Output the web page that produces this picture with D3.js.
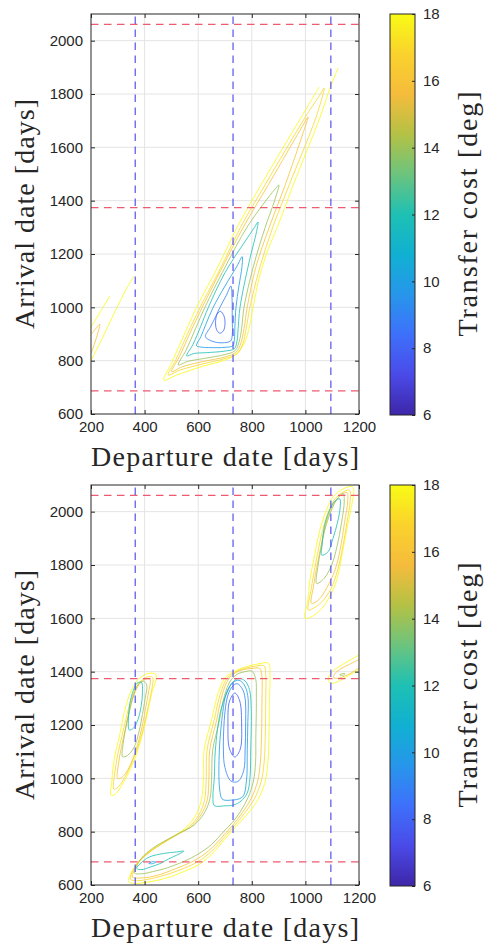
<!DOCTYPE html>
<html>
<head>
<meta charset="utf-8">
<script src="https://cdn.jsdelivr.net/npm/d3@7.9.0/dist/d3.min.js"></script>
<style>
  body { margin: 0; background: #fff; }
</style>
</head>
<body>
<div id="chart"></div>
<script>
// ---- values ----
const xTicks = [200, 400, 600, 800, 1000, 1200];
const yTicks = [600, 800, 1000, 1200, 1400, 1600, 1800, 2000];
const costTicks = [6, 8, 10, 12, 14, 16, 18];
const marsYears = [687, 1374, 2061];   // red dashed
const earthYears = [365, 730, 1095];   // blue dashed
const parula = ["#3e26a8", "#4a4ae8", "#3e70fb", "#2796eb", "#10b0d2", "#1ec0b4",
                "#6cc47e", "#b4c145", "#f5bc3c", "#fad22d", "#f9fb15"];

// contour lines, [departure, arrival] in days
const topContours = [
  { level: 8, closed: true, pts: [[683,985],[696,968],[700,940],[694,912],[680,903],[668,918],[665,950],[671,975]] },
  { level: 9, closed: true, pts: [[722,1080],[726,1040],[727,960],[727,895],[721,874],[690,867],[655,872],[627,890],[645,925],[665,965],[681,1000],[705,1045]] },
  { level: 10, closed: true, pts: [[764,1190],[763,1150],[752,1080],[741,1000],[737,930],[735,880],[729,856],[700,850],[640,849],[610,851],[594,856],[610,890],[630,940],[656,1000],[700,1080],[745,1155]] },
  { level: 12, closed: true, pts: [[823,1320],[818,1285],[790,1170],[756,1000],[749,920],[745,875],[735,845],[700,836],[630,830],[585,827],[557,818],[580,860],[610,930],[638,1000],[700,1130],[770,1240],[810,1300]] },
  { level: 14, closed: true, pts: [[901,1459],[885,1400],[850,1300],[805,1150],[771,1000],[762,920],[753,872],[738,838],[700,823],[620,808],[560,797],[526,784],[555,840],[590,920],[625,1000],[700,1150],[782,1300],[860,1410],[888,1445]] },
  { level: 16, closed: true, pts: [[1010,1714],[990,1650],[925,1460],[865,1300],[815,1150],[783,1000],[771,920],[760,868],[742,832],[700,814],[620,797],[540,777],[501,759],[530,815],[570,905],[615,1000],[690,1150],[768,1300],[862,1460],[960,1630],[995,1690]] },
  { level: 17, closed: true, pts: [[1070,1822],[1040,1714],[940,1460],[878,1300],[830,1150],[793,1000],[779,920],[766,862],[745,826],[700,808],[610,786],[530,764],[488,746],[515,800],[560,900],[607,1000],[680,1140],[758,1300],[850,1460],[1000,1714],[1050,1790]] },
  { level: 18, closed: false, pts: [[1051,1826],[985,1714],[835,1460],[745,1300],[680,1165],[594,1000],[540,880],[500,790],[472,727],[520,746],[607,776],[693,800],[734,818],[760,845],[778,880],[792,930],[805,1000],[830,1120],[862,1220],[895,1300],[955,1460],[1055,1714],[1093,1826],[1122,1897]] },
  { level: 18, closed: false, pts: [[200,800],[240,880],[290,985],[330,1065],[360,1117]] },
  { level: 18, closed: false, pts: [[200,926],[230,975],[271,1043]] },
  { level: 16, closed: false, pts: [[200,898],[222,925],[233,937],[228,912],[215,870],[203,835],[200,828]] }
];

const bottomContours = [
  { level: 8, closed: true, pts: [[737,1320],[755,1290],[762,1200],[757,1110],[737,1080],[717,1110],[711,1200],[717,1290]] },
  { level: 9, closed: true, pts: [[745,1355],[765,1335],[775,1300],[777,1200],[775,1106],[770,1030],[748,988],[722,990],[700,1040],[694,1106],[700,1250],[712,1315],[728,1345]] },
  { level: 10, closed: true, pts: [[752,1368],[772,1350],[785,1310],[785,1200],[783,1106],[780,990],[765,930],[720,918],[690,922],[680,960],[679,1106],[692,1250],[705,1320],[728,1358]] },
  { level: 12, closed: true, pts: [[660,898],[700,897],[732,900],[760,915],[783,945],[793,1000],[796,1106],[798,1250],[792,1330],[775,1365],[752,1375],[730,1362],[708,1322],[683,1250],[664,1106],[660,1000],[655,930]] },
  { level: 14, closed: true, pts: [[362,645],[390,642],[430,650],[470,660],[500,670],[550,690],[600,716],[650,752],[700,806],[728,835],[758,876],[786,928],[806,990],[814,1060],[815,1150],[817,1300],[814,1375],[800,1402],[775,1400],[745,1390],[720,1365],[698,1310],[678,1210],[654,1106],[650,1000],[644,925],[624,872],[585,825],[530,795],[480,768],[430,738],[390,702],[368,668]] },
  { level: 16, closed: true, pts: [[354,630],[380,626],[420,630],[460,640],[500,655],[550,675],[600,700],[650,738],[700,792],[732,828],[765,872],[798,925],[822,990],[832,1060],[836,1150],[838,1300],[838,1380],[830,1412],[800,1412],[770,1408],[738,1395],[712,1370],[690,1315],[668,1215],[643,1106],[640,1000],[634,920],[612,866],[572,818],[520,788],[470,758],[420,724],[380,688],[360,652]] },
  { level: 17, closed: true, pts: [[347,622],[370,616],[400,619],[450,630],[500,645],[550,664],[600,688],[650,727],[700,782],[735,822],[772,868],[808,920],[834,985],[846,1060],[850,1150],[852,1300],[852,1385],[846,1422],[815,1421],[780,1414],[740,1400],[708,1375],[683,1318],[660,1220],[633,1106],[630,1000],[624,920],[602,862],[562,815],[510,782],[460,752],[410,718],[372,680],[352,645]] },
  { level: 18, closed: true, pts: [[340,612],[360,606],[400,609],[450,618],[500,632],[550,652],[600,675],[650,715],[700,772],[740,818],[780,862],[820,915],[848,980],[860,1060],[864,1150],[866,1300],[868,1390],[862,1432],[830,1430],[790,1422],[745,1406],[703,1380],[675,1322],[650,1220],[622,1106],[620,1000],[612,920],[590,860],[550,812],[500,778],[450,748],[400,712],[365,672],[345,635]] },
  { level: 12, closed: true, pts: [[370,662],[395,690],[420,706],[470,718],[520,724],[546,727],[520,712],[490,698],[457,680],[420,667],[390,658]] },
  { level: 10, closed: true, pts: [[416,681],[428,687],[442,686],[430,680]] },
  // left lobe
  { level: 12, closed: true, pts: [[343,1181],[340,1230],[345,1280],[358,1330],[372,1357],[388,1360],[392,1320],[387,1270],[375,1220],[360,1190]] },
  { level: 14, closed: true, pts: [[318,1081],[320,1130],[330,1190],[343,1250],[358,1310],[375,1350],[395,1364],[408,1350],[402,1300],[392,1240],[378,1170],[360,1115],[335,1085]] },
  { level: 16, closed: true, pts: [[299,1000],[302,1050],[312,1110],[325,1170],[340,1240],[356,1300],[375,1345],[398,1370],[420,1372],[416,1330],[405,1270],[392,1200],[375,1130],[355,1070],[330,1020],[310,1000]] },
  { level: 17, closed: true, pts: [[285,960],[290,1030],[302,1100],[316,1160],[332,1230],[348,1290],[365,1335],[385,1364],[410,1380],[430,1378],[428,1340],[418,1290],[403,1220],[385,1150],[365,1090],[340,1030],[315,985],[295,962]] },
  { level: 18, closed: true, pts: [[275,937],[278,990],[281,1031],[292,1100],[306,1156],[320,1230],[337,1294],[355,1340],[374,1369],[400,1388],[418,1394],[442,1390],[440,1360],[430,1331],[418,1280],[405,1219],[385,1140],[362,1069],[335,1010],[312,969],[290,940]] },
  // upper right lobe
  { level: 12, closed: true, pts: [[1061,1837],[1063,1880],[1070,1940],[1088,2000],[1110,2040],[1128,2048],[1130,2020],[1120,1960],[1103,1900],[1085,1850]] },
  { level: 14, closed: true, pts: [[1042,1731],[1046,1790],[1058,1860],[1072,1930],[1095,2000],[1120,2050],[1141,2068],[1145,2040],[1135,1960],[1118,1870],[1098,1800],[1070,1750]] },
  { level: 16, closed: true, pts: [[1023,1656],[1030,1720],[1042,1790],[1058,1870],[1075,1950],[1100,2020],[1130,2060],[1155,2072],[1158,2040],[1146,1960],[1130,1860],[1110,1780],[1080,1715],[1050,1670]] },
  { level: 17, closed: true, pts: [[1011,1631],[1020,1700],[1030,1760],[1045,1840],[1064,1930],[1090,2010],[1112,2050],[1145,2076],[1165,2080],[1167,2040],[1155,1960],[1140,1870],[1120,1780],[1095,1710],[1060,1660],[1030,1638]] },
  { level: 18, closed: true, pts: [[998,1601],[1008,1660],[1017,1744],[1035,1840],[1054,1931],[1080,2010],[1104,2056],[1140,2085],[1172,2094],[1180,2085],[1172,2020],[1154,1931],[1137,1840],[1117,1744],[1090,1680],[1067,1644],[1030,1610]] },
  // lower right lobe
  { level: 14, closed: true, pts: [[1128,1388],[1140,1393],[1148,1392],[1138,1386]] },
  { level: 16, closed: false, pts: [[1205,1448],[1165,1428],[1128,1408],[1108,1390],[1106,1377],[1125,1376],[1165,1392],[1205,1418]] },
  { level: 18, closed: false, pts: [[1205,1465],[1160,1440],[1120,1415],[1095,1395],[1086,1372],[1092,1357],[1120,1362],[1160,1385],[1205,1410]] }
];

// ---- layout ----
const W = 484, H = 945;
const plotLeft = 91, plotRight = 359, plotH = 400;
const cbarX = 390, cbarW = 25;
const panels = [
  { top: 14, contours: topContours },
  { top: 485, contours: bottomContours }
];

const ink = "#262626";
const tickFont = "'Liberation Sans', Arial, Helvetica, sans-serif";
const labelFont = "'Liberation Serif', 'Times New Roman', serif";

const color = d3.scaleLinear()
  .domain(parula.map((c, i) => 6 + 12 * i / (parula.length - 1)))
  .range(parula)
  .interpolate(d3.interpolateRgb)
  .clamp(true);

const x = d3.scaleLinear().domain([200, 1200]).range([plotLeft, plotRight]);

const svg = d3.select("#chart").append("svg")
  .attr("width", W).attr("height", H)
  .attr("viewBox", `0 0 ${W} ${H}`)
  .style("font-family", tickFont);

const defs = svg.append("defs");

// shared colour ramp for the colorbars
const grad = defs.append("linearGradient")
  .attr("id", "parula")
  .attr("x1", 0).attr("y1", 1).attr("x2", 0).attr("y2", 0);
grad.selectAll("stop")
  .data(d3.range(0, 1.0001, 0.02))
  .join("stop")
  .attr("offset", d => d)
  .attr("stop-color", d => color(6 + 12 * d));

panels.forEach((p, i) => {
  const y = d3.scaleLinear().domain([600, 2100]).range([p.top + plotH, p.top]);
  const g = svg.append("g");

  defs.append("clipPath").attr("id", "clip" + i)
    .append("rect")
    .attr("x", plotLeft).attr("y", p.top)
    .attr("width", plotRight - plotLeft).attr("height", plotH);

  // grid
  const grid = g.append("g").attr("stroke", "#e4e4e4").attr("stroke-width", 1);
  grid.selectAll(".gx").data(xTicks.slice(1, -1)).join("line")
    .attr("x1", d => x(d)).attr("x2", d => x(d))
    .attr("y1", p.top).attr("y2", p.top + plotH);
  grid.selectAll(".gy").data(yTicks.slice(1)).join("line")
    .attr("y1", d => y(d)).attr("y2", d => y(d))
    .attr("x1", plotLeft).attr("x2", plotRight);

  // contour lines
  const lineOpen = d3.line().x(d => x(d[0])).y(d => y(d[1])).curve(d3.curveCatmullRom.alpha(0.5));
  const lineClosed = d3.line().x(d => x(d[0])).y(d => y(d[1])).curve(d3.curveCatmullRomClosed.alpha(0.5));
  g.append("g").attr("clip-path", `url(#clip${i})`)
    .selectAll("path")
    .data(p.contours.slice().sort((a, b) => b.level - a.level))
    .join("path")
    .attr("d", d => (d.closed ? lineClosed : lineOpen)(d.pts))
    .attr("fill", "none")
    .attr("stroke", d => color(d.level))
    .attr("stroke-width", 0.9)
    .attr("stroke-opacity", 0.9);

  // mars synodic lines and earth years
  const ref = g.append("g").attr("clip-path", `url(#clip${i})`).attr("fill", "none");
  ref.selectAll(".mars").data(marsYears).join("line")
    .attr("x1", plotLeft).attr("x2", plotRight)
    .attr("y1", d => y(d)).attr("y2", d => y(d))
    .attr("stroke", "#ee5a6e").attr("stroke-width", 1.2)
    .attr("stroke-dasharray", "7.5,5.5");
  ref.selectAll(".earth").data(earthYears).join("line")
    .attr("x1", d => x(d)).attr("x2", d => x(d))
    .attr("y1", p.top + plotH).attr("y2", p.top)
    .attr("stroke", "#5552ee").attr("stroke-width", 1.2)
    .attr("stroke-dasharray", "7.5,5.5");

  // axes with ticks on all sides
  const tick = 4;
  const fmt = d3.format("d");
  g.append("g").attr("transform", `translate(0,${p.top + plotH})`)
    .call(d3.axisBottom(x).tickValues(xTicks).tickSize(-tick).tickPadding(7).tickFormat(fmt))
    .call(a => a.select(".domain").remove());
  g.append("g").attr("transform", `translate(0,${p.top})`)
    .call(d3.axisTop(x).tickValues(xTicks).tickSize(-tick).tickFormat(""))
    .call(a => a.select(".domain").remove());
  g.append("g").attr("transform", `translate(${plotLeft},0)`)
    .call(d3.axisLeft(y).tickValues(yTicks).tickSize(-tick).tickPadding(8).tickFormat(fmt))
    .call(a => a.select(".domain").remove());
  g.append("g").attr("transform", `translate(${plotRight},0)`)
    .call(d3.axisRight(y).tickValues(yTicks).tickSize(-tick).tickFormat(""))
    .call(a => a.select(".domain").remove());

  g.append("rect")
    .attr("x", plotLeft).attr("y", p.top)
    .attr("width", plotRight - plotLeft).attr("height", plotH)
    .attr("fill", "none").attr("stroke", ink).attr("stroke-width", 1);

  // colorbar
  const c = d3.scaleLinear().domain([6, 18]).range([p.top + plotH + 1, p.top]);
  g.append("rect")
    .attr("x", cbarX).attr("y", c(18))
    .attr("width", cbarW).attr("height", c(6) - c(18))
    .attr("fill", "url(#parula)");
  g.append("g").attr("transform", `translate(${cbarX + cbarW},0)`)
    .call(d3.axisRight(c).tickValues(costTicks).tickSize(-3).tickPadding(8).tickFormat(fmt))
    .call(a => a.select(".domain").remove());
  g.append("rect")
    .attr("x", cbarX).attr("y", c(18))
    .attr("width", cbarW).attr("height", c(6) - c(18))
    .attr("fill", "none").attr("stroke", ink).attr("stroke-width", 1);

  g.selectAll(".tick line").attr("stroke", ink);
  g.selectAll(".tick text").attr("fill", ink)
    .style("font-size", "15px").style("font-family", tickFont);

  // labels
  g.append("text")
    .attr("x", (plotLeft + plotRight) / 2).attr("y", p.top + plotH + 52)
    .attr("text-anchor", "middle")
    .attr("textLength", 268).attr("lengthAdjust", "spacing")
    .style("font-family", labelFont).style("font-size", "28px").attr("fill", ink)
    .text("Departure date [days]");
  g.append("text")
    .attr("transform", `translate(34,${p.top + plotH / 2}) rotate(-90)`)
    .attr("text-anchor", "middle")
    .attr("textLength", 230).attr("lengthAdjust", "spacing")
    .style("font-family", labelFont).style("font-size", "28px").attr("fill", ink)
    .text("Arrival date [days]");
  g.append("text")
    .attr("transform", `translate(477,${p.top + plotH / 2}) rotate(-90)`)
    .attr("text-anchor", "middle")
    .attr("textLength", 245).attr("lengthAdjust", "spacing")
    .style("font-family", labelFont).style("font-size", "28px").attr("fill", ink)
    .text("Transfer cost [deg]");
});
</script>
</body>
</html>
